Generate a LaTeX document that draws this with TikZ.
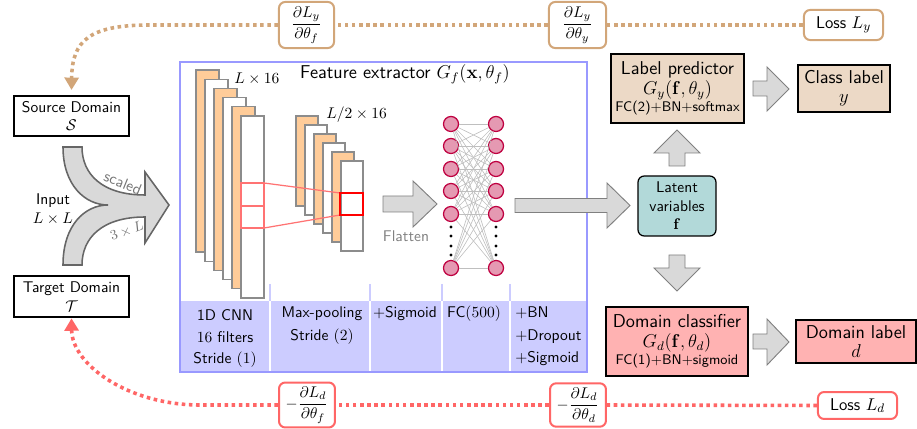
\documentclass[tikz,border=0pt]{standalone}
\usepackage{amsmath}
\usetikzlibrary{arrows.meta}
\begin{document}
\begin{tikzpicture}[x=0.645pt,y=-0.645pt, font=\sffamily,
  box/.style={draw=black, line width=0.8pt, align=center, inner sep=1pt},
  grad/.style={draw=#1, fill=white, rounded corners=4pt, line width=1.3pt, inner sep=1pt, align=center},
  dotline/.style={draw=#1, line width=2.3pt, dash pattern=on 2.3pt off 2.3pt},
  fmap/.style={draw=gray!90, line width=0.8pt},
  blockarrow/.style={fill=gray!30, draw=gray, line width=0.6pt},
  neuron/.style={circle, fill=purple!40, draw=purple, line width=0.8pt, minimum size=9.7pt, inner sep=0pt},
  ct/.style={inner sep=0pt, anchor=base},
  tip/.style={-{Triangle[length=8pt,width=9pt]}}
  ]
\useasboundingbox (0,0) rectangle (917,429);

% ---- source / target / input ----
\node[box, minimum width=74.2pt, minimum height=25.8pt] (src) at (71.5,116) {Source Domain\\$\mathcal{S}$};
\node[box, minimum width=74.2pt, minimum height=26.4pt] (tgt) at (71.5,296.5) {Target Domain\\$\mathcal{T}$};
\node[align=center, inner sep=0pt] (inp) at (53,209) {Input\\$L\times L$};

% curved merging arrow
\draw[fill=gray!30, draw=black!60, line width=1pt]
  (63,147) .. controls (63,185) and (85,205) .. (108,205)
  .. controls (85,205) and (63,225) .. (63,265) -- (82,265)
  .. controls (82,238) and (102,217) .. (145,217) -- (145,243) -- (169,205) -- (145,172) -- (145,195)
  .. controls (102,195) and (82,174) .. (82,147) -- cycle;
\node[text=black!55, font=\sffamily, rotate=-22, inner sep=0pt] (scl) at (123,183) {scaled};
\node[text=black!55, font=\small, rotate=20, inner sep=0pt] (thr) at (127,231) {$3\times L$};

% ---- feature extractor frame ----
\fill[blue!20] (181,301) rectangle (586,372);
\foreach \xx in {270,370,442,510} {
  \draw[white, line width=1.3pt] (\xx,301) -- (\xx,372);
  \draw[blue!20, line width=1pt] (\xx,284) -- (\xx,301);
}
\draw[blue!40, line width=1.3pt] (180,62) rectangle (587,372);
\node[ct, font=\sffamily\large] (title) at (405,79) {Feature extractor $G_f(\mathbf{x},\theta_f)$};

% column texts
\node[ct] (c1a) at (225,321) {1D CNN};
\node[ct] (c1b) at (225,343) {$16$ filters};
\node[ct] (c1c) at (225,364) {Stride $(1)$};
\node[ct] (c2a) at (322,318) {Max-pooling};
\node[ct] (c2b) at (322,341) {Stride $(2)$};
\node[ct] (c3a) at (405,318) {$+$Sigmoid};
\node[ct] (c4a) at (474,318) {FC$(500)$};
\node[ct, anchor=base west] (c5a) at (515,318) {$+$BN};
\node[ct, anchor=base west] (c5b) at (515,341) {$+$Dropout};
\node[ct, anchor=base west] (c5c) at (515,363) {$+$Sigmoid};

% feature maps
\foreach \i/\c in {0/orange!40,1/white,2/orange!40,3/white,4/orange!40,5/white}
  \draw[fmap, fill=\c] ({196+9*\i},{70+9.2*\i}) rectangle ++(23,182);
\foreach \i/\c in {0/orange!40,1/white,2/orange!40,3/white,4/orange!40,5/white}
  \draw[fmap, fill=\c] ({296+9*\i},{116+9*\i}) rectangle ++(22,90);
\node[anchor=west, inner sep=0pt] (l16) at (234,79) {$L\times 16$};
\node[anchor=west, inner sep=0pt] (l216) at (326,115) {$L/2\times 16$};
\draw[red!55, line width=0.8pt] (241,183) rectangle (264,228);
\draw[red!55, line width=0.8pt] (241,206) -- (264,206);
\draw[red!55, line width=0.8pt] (264,183) -- (340,193);
\draw[red!55, line width=0.8pt] (264,228) -- (340,215);
\draw[red, line width=1.1pt] (340,193) rectangle (363,215);

% flatten arrow
\draw[blockarrow] (383,196) -- (413,196) -- (413,181) -- (437,204) -- (413,227) -- (413,212) -- (383,212) -- cycle;
\node[text=gray] (flat) at (406,236) {Flatten};

% neural net
\foreach \k/\yy in {1/124,2/146,3/169,4/191,5/214,6/268} {
  \node[neuron] (l\k) at (451,\yy) {};
  \node[neuron] (r\k) at (496,\yy) {};
}
\foreach \a in {1,...,6}
  \foreach \b in {1,...,6}
    \draw[gray!50, line width=0.4pt] (l\a) -- (r\b);
\foreach \yy in {227,236,246,255} {
  \fill (451,\yy) circle[radius=1pt];
  \fill (496,\yy) circle[radius=1pt];
}

% arrow to latent
\draw[blockarrow] (515,198.5) -- (607,198.5) -- (607,183) -- (630,205.5) -- (607,228) -- (607,212.5) -- (515,212.5) -- cycle;

% ---- right part ----
\node[box, rounded corners=4pt, fill=teal!30, minimum width=50.3pt, minimum height=38.7pt, inner sep=0pt] (lat) at (677,206) {Latent\\variables\\$\mathbf{f}$};
\node[box, fill=brown!30, minimum width=85.8pt, minimum height=44.5pt, font=\sffamily\large] (lp) at (677.5,88.5) {Label predictor\\[-1pt]$G_y(\mathbf{f},\theta_y)$\\[-3pt]{\small FC(2)+BN+softmax}};
\node[box, fill=brown!30, minimum width=59.3pt, minimum height=30.3pt, font=\sffamily\large] (cl) at (844,88.5) {Class label\\[-2pt]$y$};
\node[box, fill=red!30, minimum width=91.6pt, minimum height=44.5pt, font=\sffamily\large] (dc) at (677,341.5) {Domain classifier\\[-1pt]$G_d(\mathbf{f},\theta_d)$\\[-3pt]{\small FC(1)+BN+sigmoid}};
\node[box, fill=red!30, minimum width=77.4pt, minimum height=27.7pt, font=\sffamily\large] (dl) at (856,341.5) {Domain label\\[-2pt]$d$};

\draw[blockarrow] (669,166) -- (669,153) -- (654,153) -- (677,130) -- (700,153) -- (685,153) -- (685,166) -- cycle;
\draw[blockarrow] (669,255) -- (669,268) -- (654,268) -- (677,291) -- (700,268) -- (685,268) -- (685,255) -- cycle;
\draw[blockarrow] (753,81) -- (767,81) -- (767,67) -- (789,89) -- (767,111) -- (767,96) -- (753,96) -- cycle;
\draw[blockarrow] (753,334) -- (767,334) -- (767,319) -- (789,342) -- (767,365) -- (767,349) -- (753,349) -- cycle;

% ---- gradient boxes ----
\node[grad=brown!70, minimum width=35.5pt, minimum height=29.7pt] (dyf) at (306.5,25) {$\dfrac{\partial L_y}{\partial \theta_f}$};
\node[grad=brown!70, minimum width=36.8pt, minimum height=29.7pt] (dyy) at (577.5,25) {$\dfrac{\partial L_y}{\partial \theta_y}$};
\node[grad=brown!70, minimum width=51pt, minimum height=19.4pt, font=\sffamily\fontsize{11}{13}\selectfont] (ly) at (843.5,25) {Loss $L_y$};
\node[grad=red!60, minimum width=36.1pt, minimum height=29pt] (ddf) at (307,405) {$-\dfrac{\partial L_d}{\partial \theta_f}$};
\node[grad=red!60, minimum width=36.1pt, minimum height=28pt] (ddd) at (578,405) {$-\dfrac{\partial L_d}{\partial \theta_d}$};
\node[grad=red!60, minimum width=51pt, minimum height=17.4pt, font=\sffamily\fontsize{11}{13}\selectfont] (ld) at (857.5,405.5) {Loss $L_d$};

\coordinate (c1) at (150,25);
\coordinate (c2) at (200,405);
\draw[dotline=brown!70] (ly.west) -- (dyy.east);
\draw[dotline=brown!70] (dyy.west) -- (dyf.east);
\draw[dotline=brown!70, tip, shorten >=3.5pt] (dyf.west) -- (c1) .. controls (90,25) and (72,40) .. (src.north);
\draw[dotline=red!60] (ld.west) -- (ddd.east);
\draw[dotline=red!60] (ddd.west) -- (ddf.east);
\draw[dotline=red!60, tip, shorten >=0.5pt] (ddf.west) -- (c2) .. controls (129,405) and (72,365) .. (tgt.south);
\end{tikzpicture}
\end{document}
